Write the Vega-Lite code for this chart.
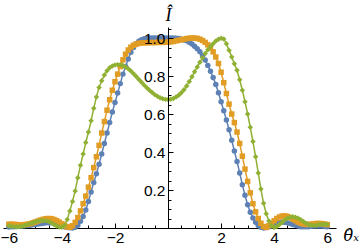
{
  "$schema": "https://vega.github.io/schema/vega-lite/v6.json",
  "width": 333,
  "height": 201,
  "autosize": {"type": "none"},
  "padding": {"left": 3, "top": 27, "right": 24, "bottom": 22},
  "background": "white",
  "config": {"view": {"stroke": null}},
  "data": {"values": [
    {"x":-6.0,"s1":0.005,"s2":0.020,"s3":0.012},
    {"x":-5.9,"s1":0.006,"s2":0.020,"s3":0.009},
    {"x":-5.8,"s1":0.007,"s2":0.019,"s3":0.007},
    {"x":-5.7,"s1":0.008,"s2":0.018,"s3":0.006},
    {"x":-5.6,"s1":0.009,"s2":0.017,"s3":0.007},
    {"x":-5.5,"s1":0.010,"s2":0.017,"s3":0.009},
    {"x":-5.4,"s1":0.012,"s2":0.018,"s3":0.013},
    {"x":-5.3,"s1":0.013,"s2":0.020,"s3":0.018},
    {"x":-5.2,"s1":0.015,"s2":0.023,"s3":0.023},
    {"x":-5.1,"s1":0.017,"s2":0.027,"s3":0.028},
    {"x":-5.0,"s1":0.019,"s2":0.032,"s3":0.033},
    {"x":-4.9,"s1":0.021,"s2":0.037,"s3":0.037},
    {"x":-4.8,"s1":0.023,"s2":0.042,"s3":0.040},
    {"x":-4.7,"s1":0.025,"s2":0.046,"s3":0.040},
    {"x":-4.6,"s1":0.027,"s2":0.049,"s3":0.038},
    {"x":-4.5,"s1":0.028,"s2":0.050,"s3":0.034},
    {"x":-4.4,"s1":0.028,"s2":0.049,"s3":0.027},
    {"x":-4.3,"s1":0.026,"s2":0.045,"s3":0.019},
    {"x":-4.2,"s1":0.022,"s2":0.039,"s3":0.011},
    {"x":-4.1,"s1":0.017,"s2":0.031,"s3":0.005},
    {"x":-4.0,"s1":0.012,"s2":0.022,"s3":0.004},
    {"x":-3.9,"s1":0.007,"s2":0.013,"s3":0.015},
    {"x":-3.8,"s1":0.003,"s2":0.006,"s3":0.045},
    {"x":-3.7,"s1":0.001,"s2":0.004,"s3":0.090},
    {"x":-3.6,"s1":0.000,"s2":0.012,"s3":0.140},
    {"x":-3.5,"s1":0.004,"s2":0.030,"s3":0.195},
    {"x":-3.4,"s1":0.015,"s2":0.055,"s3":0.265},
    {"x":-3.3,"s1":0.035,"s2":0.090,"s3":0.330},
    {"x":-3.2,"s1":0.060,"s2":0.128,"s3":0.390},
    {"x":-3.1,"s1":0.095,"s2":0.168,"s3":0.450},
    {"x":-3.0,"s1":0.140,"s2":0.215,"s3":0.505},
    {"x":-2.9,"s1":0.190,"s2":0.265,"s3":0.565},
    {"x":-2.8,"s1":0.240,"s2":0.318,"s3":0.630},
    {"x":-2.7,"s1":0.285,"s2":0.375,"s3":0.690},
    {"x":-2.6,"s1":0.335,"s2":0.435,"s3":0.740},
    {"x":-2.5,"s1":0.390,"s2":0.500,"s3":0.775},
    {"x":-2.4,"s1":0.445,"s2":0.560,"s3":0.805},
    {"x":-2.3,"s1":0.500,"s2":0.620,"s3":0.828},
    {"x":-2.2,"s1":0.555,"s2":0.675,"s3":0.843},
    {"x":-2.1,"s1":0.610,"s2":0.725,"s3":0.853},
    {"x":-2.0,"s1":0.660,"s2":0.770,"s3":0.858},
    {"x":-1.9,"s1":0.710,"s2":0.810,"s3":0.860},
    {"x":-1.8,"s1":0.760,"s2":0.850,"s3":0.859},
    {"x":-1.7,"s1":0.810,"s2":0.885,"s3":0.855},
    {"x":-1.6,"s1":0.850,"s2":0.915,"s3":0.848},
    {"x":-1.5,"s1":0.890,"s2":0.937,"s3":0.838},
    {"x":-1.4,"s1":0.925,"s2":0.952,"s3":0.826},
    {"x":-1.3,"s1":0.950,"s2":0.962,"s3":0.812},
    {"x":-1.2,"s1":0.970,"s2":0.968,"s3":0.797},
    {"x":-1.1,"s1":0.983,"s2":0.972,"s3":0.782},
    {"x":-1.0,"s1":0.991,"s2":0.974,"s3":0.767},
    {"x":-0.9,"s1":0.996,"s2":0.975,"s3":0.752},
    {"x":-0.8,"s1":0.998,"s2":0.975,"s3":0.738},
    {"x":-0.7,"s1":1.000,"s2":0.976,"s3":0.725},
    {"x":-0.6,"s1":1.000,"s2":0.976,"s3":0.713},
    {"x":-0.5,"s1":1.000,"s2":0.976,"s3":0.702},
    {"x":-0.4,"s1":1.000,"s2":0.977,"s3":0.693},
    {"x":-0.3,"s1":1.000,"s2":0.977,"s3":0.686},
    {"x":-0.2,"s1":1.000,"s2":0.977,"s3":0.680},
    {"x":-0.1,"s1":1.000,"s2":0.978,"s3":0.677},
    {"x":0.0,"s1":1.000,"s2":0.978,"s3":0.676},
    {"x":0.1,"s1":1.000,"s2":0.980,"s3":0.678},
    {"x":0.2,"s1":1.000,"s2":0.982,"s3":0.682},
    {"x":0.3,"s1":0.999,"s2":0.985,"s3":0.689},
    {"x":0.4,"s1":0.997,"s2":0.988,"s3":0.699},
    {"x":0.5,"s1":0.994,"s2":0.991,"s3":0.712},
    {"x":0.6,"s1":0.990,"s2":0.994,"s3":0.728},
    {"x":0.7,"s1":0.985,"s2":0.997,"s3":0.748},
    {"x":0.8,"s1":0.978,"s2":0.999,"s3":0.771},
    {"x":0.9,"s1":0.968,"s2":1.000,"s3":0.796},
    {"x":1.0,"s1":0.957,"s2":1.000,"s3":0.822},
    {"x":1.1,"s1":0.944,"s2":0.998,"s3":0.848},
    {"x":1.2,"s1":0.928,"s2":0.994,"s3":0.873},
    {"x":1.3,"s1":0.908,"s2":0.987,"s3":0.896},
    {"x":1.4,"s1":0.884,"s2":0.977,"s3":0.918},
    {"x":1.5,"s1":0.856,"s2":0.964,"s3":0.938},
    {"x":1.6,"s1":0.825,"s2":0.948,"s3":0.955},
    {"x":1.7,"s1":0.792,"s2":0.927,"s3":0.970},
    {"x":1.8,"s1":0.755,"s2":0.900,"s3":0.984},
    {"x":1.9,"s1":0.712,"s2":0.866,"s3":0.994},
    {"x":2.0,"s1":0.665,"s2":0.820,"s3":0.999},
    {"x":2.1,"s1":0.617,"s2":0.765,"s3":0.995},
    {"x":2.2,"s1":0.568,"s2":0.708,"s3":0.970},
    {"x":2.3,"s1":0.517,"s2":0.652,"s3":0.935},
    {"x":2.4,"s1":0.462,"s2":0.600,"s3":0.900},
    {"x":2.5,"s1":0.405,"s2":0.555,"s3":0.865},
    {"x":2.6,"s1":0.350,"s2":0.505,"s3":0.830},
    {"x":2.7,"s1":0.290,"s2":0.445,"s3":0.780},
    {"x":2.8,"s1":0.228,"s2":0.378,"s3":0.725},
    {"x":2.9,"s1":0.172,"s2":0.310,"s3":0.665},
    {"x":3.0,"s1":0.122,"s2":0.245,"s3":0.600},
    {"x":3.1,"s1":0.083,"s2":0.185,"s3":0.530},
    {"x":3.2,"s1":0.053,"s2":0.128,"s3":0.455},
    {"x":3.3,"s1":0.030,"s2":0.085,"s3":0.375},
    {"x":3.4,"s1":0.013,"s2":0.050,"s3":0.290},
    {"x":3.5,"s1":0.004,"s2":0.025,"s3":0.205},
    {"x":3.6,"s1":0.000,"s2":0.008,"s3":0.130},
    {"x":3.7,"s1":0.002,"s2":0.003,"s3":0.075},
    {"x":3.8,"s1":0.007,"s2":0.012,"s3":0.037},
    {"x":3.9,"s1":0.013,"s2":0.025,"s3":0.013},
    {"x":4.0,"s1":0.019,"s2":0.038,"s3":0.003},
    {"x":4.1,"s1":0.024,"s2":0.050,"s3":0.008},
    {"x":4.2,"s1":0.028,"s2":0.058,"s3":0.018},
    {"x":4.3,"s1":0.030,"s2":0.063,"s3":0.030},
    {"x":4.4,"s1":0.030,"s2":0.064,"s3":0.042},
    {"x":4.5,"s1":0.028,"s2":0.061,"s3":0.051},
    {"x":4.6,"s1":0.024,"s2":0.055,"s3":0.057},
    {"x":4.7,"s1":0.019,"s2":0.047,"s3":0.059},
    {"x":4.8,"s1":0.014,"s2":0.039,"s3":0.057},
    {"x":4.9,"s1":0.010,"s2":0.031,"s3":0.051},
    {"x":5.0,"s1":0.007,"s2":0.025,"s3":0.043},
    {"x":5.1,"s1":0.006,"s2":0.021,"s3":0.034},
    {"x":5.2,"s1":0.006,"s2":0.019,"s3":0.025},
    {"x":5.3,"s1":0.007,"s2":0.019,"s3":0.018},
    {"x":5.4,"s1":0.009,"s2":0.020,"s3":0.014},
    {"x":5.5,"s1":0.010,"s2":0.022,"s3":0.013},
    {"x":5.6,"s1":0.011,"s2":0.024,"s3":0.015},
    {"x":5.7,"s1":0.011,"s2":0.024,"s3":0.018},
    {"x":5.8,"s1":0.010,"s2":0.023,"s3":0.020},
    {"x":5.9,"s1":0.008,"s2":0.021,"s3":0.020},
    {"x":6.0,"s1":0.006,"s2":0.018,"s3":0.018}
  ]},
  "transform": [{"fold": ["s1", "s2", "s3"], "as": ["s", "y"]}],
  "encoding": {
    "x": {
      "field": "x", "type": "quantitative",
      "scale": {"domain": [-6.22, 6.33], "nice": false, "zero": false},
      "axis": {
        "values": [-6,-5.5,-5,-4.5,-4,-3.5,-3,-2.5,-2,-1.5,-1,-0.5,0.5,1,1.5,2,2.5,3,3.5,4,4.5,5,5.5,6],
        "format": ".0f",
        "labelExpr": "datum.value % 2 == 0 ? datum.label : ''",
        "grid": false,
        "domainColor": "#000000",
        "domainWidth": 1,
        "tickColor": "#000000",
        "tickWidth": 1,
        "tickSize": {"condition": {"test": "datum.value % 2 == 0", "value": -5}, "value": -3},
        "labelPadding": 7,
        "labelBaseline": "top",
        "labelFont": "Liberation Sans",
        "labelFontSize": 15.5,
        "labelColor": "#000000",
        "labelOverlap": false,
        "labelFlush": false,
        "labelBound": false,
        "title": "θ̂ₓ",
        "titleFont": "DejaVu Serif",
        "titleFontStyle": "italic",
        "titleFontWeight": "normal",
        "titleFontSize": 16,
        "titleColor": "#000000",
        "titleAlign": "left",
        "titleBaseline": "alphabetic",
        "titleX": 340,
        "titleY": 12
      }
    },
    "y": {
      "field": "y", "type": "quantitative",
      "scale": {"domain": [0, 1.058], "nice": false, "zero": false},
      "axis": {
        "orient": "left",
        "offset": -165,
        "zindex": 1,
        "values": [0.05,0.1,0.15,0.2,0.25,0.3,0.35,0.4,0.45,0.5,0.55,0.6,0.65,0.7,0.75,0.8,0.85,0.9,0.95,1.0,1.05],
        "labelExpr": "round(datum.value*100) % 20 == 0 ? format(datum.value, '.1f') : ''",
        "grid": false,
        "domainColor": "#000000",
        "domainWidth": 1,
        "tickColor": "#000000",
        "tickWidth": 1,
        "tickSize": {"condition": {"test": "round(datum.value*100) % 20 == 0", "value": -5}, "value": -3},
        "labelPadding": 8,
        "labelFont": "Liberation Sans",
        "labelFontSize": 15.5,
        "labelColor": "#000000",
        "labelOverlap": false,
        "labelFlush": false,
        "labelBound": false,
        "title": "Î",
        "titleAngle": 0,
        "titleFont": "Liberation Serif",
        "titleFontStyle": "italic",
        "titleFontWeight": "normal",
        "titleFontSize": 18,
        "titleColor": "#000000",
        "titleAlign": "center",
        "titleBaseline": "alphabetic",
        "titleX": 0,
        "titleY": -7
      }
    },
    "color": {
      "field": "s", "type": "nominal",
      "scale": {"domain": ["s1", "s2", "s3"], "range": ["#5E81B5", "#E19C24", "#8FB032"]},
      "legend": null
    }
  },
  "layer": [
    {"mark": {"type": "line", "strokeWidth": 1.5}, "encoding": {"order": {"field": "x", "type": "quantitative"}}},
    {
      "mark": {"type": "point", "filled": true, "opacity": 1, "size": 30},
      "encoding": {
        "shape": {"field": "s", "type": "nominal", "scale": {"domain": ["s1", "s2", "s3"], "range": ["circle", "square", "diamond"]}, "legend": null},
        "order": {"field": "s", "type": "nominal"}
      }
    }
  ]
}
